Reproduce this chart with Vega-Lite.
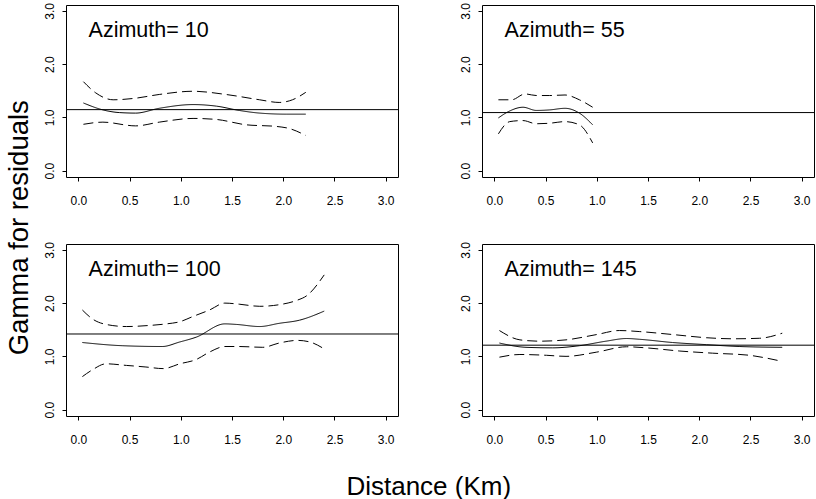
{
  "$schema": "https://vega.github.io/schema/vega-lite/v6.json",
  "padding": {"left": 5, "top": 2, "right": 0, "bottom": 0},
  "background": "white",
  "title": {"text": "Gamma for residuals", "orient": "left", "anchor": "middle", "fontSize": 27.5, "fontWeight": "normal", "font": "Liberation Sans", "color": "black", "offset": 9, "dx": 23},
  "config": {
    "font": "Liberation Sans",
    "view": {"stroke": "black", "strokeWidth": 1},
    "header": {"labels": false, "title": null, "labelFontSize": 0, "labelPadding": 0},
    "axis": {"domain": false, "grid": false, "tickColor": "black", "tickSize": 4, "labelFont": "Liberation Sans", "labelFontSize": 12, "labelColor": "black", "labelFlush": false, "labelOverlap": false}
  },
  "vconcat": [
    {
      "title": {"text": "Distance (Km)", "orient": "bottom", "anchor": "middle", "fontSize": 26, "fontWeight": "normal", "font": "Liberation Sans", "color": "black", "offset": 28},
      "data": {"values": [
        {"az":10,"s":"upper","d":0.05,"g":1.67},{"az":10,"s":"upper","d":0.17,"g":1.46},{"az":10,"s":"upper","d":0.34,"g":1.33},{"az":10,"s":"upper","d":0.56,"g":1.36},{"az":10,"s":"upper","d":0.79,"g":1.43},{"az":10,"s":"upper","d":1.12,"g":1.49},{"az":10,"s":"upper","d":1.44,"g":1.43},{"az":10,"s":"upper","d":1.77,"g":1.33},{"az":10,"s":"upper","d":1.96,"g":1.28},{"az":10,"s":"upper","d":2.09,"g":1.33},{"az":10,"s":"upper","d":2.22,"g":1.47},
        {"az":10,"s":"center","d":0.05,"g":1.27},{"az":10,"s":"center","d":0.24,"g":1.14},{"az":10,"s":"center","d":0.40,"g":1.09},{"az":10,"s":"center","d":0.56,"g":1.08},{"az":10,"s":"center","d":0.79,"g":1.17},{"az":10,"s":"center","d":1.12,"g":1.24},{"az":10,"s":"center","d":1.35,"g":1.21},{"az":10,"s":"center","d":1.57,"g":1.13},{"az":10,"s":"center","d":1.77,"g":1.08},{"az":10,"s":"center","d":2.03,"g":1.06},{"az":10,"s":"center","d":2.22,"g":1.06},
        {"az":10,"s":"lower","d":0.05,"g":0.87},{"az":10,"s":"lower","d":0.24,"g":0.91},{"az":10,"s":"lower","d":0.56,"g":0.84},{"az":10,"s":"lower","d":0.79,"g":0.91},{"az":10,"s":"lower","d":1.12,"g":0.98},{"az":10,"s":"lower","d":1.35,"g":0.96},{"az":10,"s":"lower","d":1.64,"g":0.86},{"az":10,"s":"lower","d":1.93,"g":0.83},{"az":10,"s":"lower","d":2.06,"g":0.79},{"az":10,"s":"lower","d":2.22,"g":0.66},
        {"az":10,"s":"sill","g":1.145},
        {"az":55,"s":"upper","d":0.04,"g":1.33},{"az":55,"s":"upper","d":0.17,"g":1.33},{"az":55,"s":"upper","d":0.30,"g":1.44},{"az":55,"s":"upper","d":0.41,"g":1.41},{"az":55,"s":"upper","d":0.54,"g":1.41},{"az":55,"s":"upper","d":0.69,"g":1.42},{"az":55,"s":"upper","d":0.83,"g":1.33},{"az":55,"s":"upper","d":0.96,"g":1.19},
        {"az":55,"s":"center","d":0.04,"g":0.99},{"az":55,"s":"center","d":0.14,"g":1.11},{"az":55,"s":"center","d":0.28,"g":1.19},{"az":55,"s":"center","d":0.41,"g":1.13},{"az":55,"s":"center","d":0.54,"g":1.14},{"az":55,"s":"center","d":0.69,"g":1.17},{"az":55,"s":"center","d":0.83,"g":1.08},{"az":55,"s":"center","d":0.96,"g":0.86},
        {"az":55,"s":"lower","d":0.04,"g":0.69},{"az":55,"s":"lower","d":0.15,"g":0.92},{"az":55,"s":"lower","d":0.28,"g":0.94},{"az":55,"s":"lower","d":0.41,"g":0.88},{"az":55,"s":"lower","d":0.54,"g":0.89},{"az":55,"s":"lower","d":0.69,"g":0.92},{"az":55,"s":"lower","d":0.83,"g":0.86},{"az":55,"s":"lower","d":0.96,"g":0.52},
        {"az":55,"s":"sill","g":1.09},
        {"az":100,"s":"upper","d":0.04,"g":1.87},{"az":100,"s":"upper","d":0.14,"g":1.70},{"az":100,"s":"upper","d":0.27,"g":1.60},{"az":100,"s":"upper","d":0.47,"g":1.56},{"az":100,"s":"upper","d":0.69,"g":1.58},{"az":100,"s":"upper","d":0.86,"g":1.61},{"az":100,"s":"upper","d":0.99,"g":1.65},{"az":100,"s":"upper","d":1.12,"g":1.75},{"az":100,"s":"upper","d":1.28,"g":1.87},{"az":100,"s":"upper","d":1.43,"g":2.0},{"az":100,"s":"upper","d":1.57,"g":1.98},{"az":100,"s":"upper","d":1.77,"g":1.94},{"az":100,"s":"upper","d":1.96,"g":1.97},{"az":100,"s":"upper","d":2.13,"g":2.05},{"az":100,"s":"upper","d":2.23,"g":2.14},{"az":100,"s":"upper","d":2.40,"g":2.53},
        {"az":100,"s":"center","d":0.04,"g":1.26},{"az":100,"s":"center","d":0.43,"g":1.20},{"az":100,"s":"center","d":0.82,"g":1.185},{"az":100,"s":"center","d":0.99,"g":1.27},{"az":100,"s":"center","d":1.15,"g":1.36},{"az":100,"s":"center","d":1.43,"g":1.61},{"az":100,"s":"center","d":1.54,"g":1.60},{"az":100,"s":"center","d":1.77,"g":1.56},{"az":100,"s":"center","d":1.96,"g":1.62},{"az":100,"s":"center","d":2.16,"g":1.68},{"az":100,"s":"center","d":2.40,"g":1.85},
        {"az":100,"s":"lower","d":0.04,"g":0.62},{"az":100,"s":"lower","d":0.14,"g":0.75},{"az":100,"s":"lower","d":0.27,"g":0.86},{"az":100,"s":"lower","d":0.47,"g":0.83},{"az":100,"s":"lower","d":0.66,"g":0.80},{"az":100,"s":"lower","d":0.83,"g":0.77},{"az":100,"s":"lower","d":0.99,"g":0.86},{"az":100,"s":"lower","d":1.15,"g":0.94},{"az":100,"s":"lower","d":1.28,"g":1.08},{"az":100,"s":"lower","d":1.43,"g":1.185},{"az":100,"s":"lower","d":1.57,"g":1.185},{"az":100,"s":"lower","d":1.80,"g":1.17},{"az":100,"s":"lower","d":1.96,"g":1.25},{"az":100,"s":"lower","d":2.14,"g":1.30},{"az":100,"s":"lower","d":2.26,"g":1.27},{"az":100,"s":"lower","d":2.40,"g":1.14},
        {"az":100,"s":"sill","g":1.42},
        {"az":145,"s":"upper","d":0.05,"g":1.485},{"az":145,"s":"upper","d":0.25,"g":1.31},{"az":145,"s":"upper","d":0.44,"g":1.285},{"az":145,"s":"upper","d":0.70,"g":1.31},{"az":145,"s":"upper","d":1.0,"g":1.41},{"az":145,"s":"upper","d":1.22,"g":1.485},{"az":145,"s":"upper","d":1.42,"g":1.465},{"az":145,"s":"upper","d":1.74,"g":1.41},{"az":145,"s":"upper","d":2.07,"g":1.35},{"az":145,"s":"upper","d":2.33,"g":1.33},{"az":145,"s":"upper","d":2.59,"g":1.34},{"az":145,"s":"upper","d":2.81,"g":1.435},
        {"az":145,"s":"center","d":0.05,"g":1.25},{"az":145,"s":"center","d":0.31,"g":1.17},{"az":145,"s":"center","d":0.57,"g":1.16},{"az":145,"s":"center","d":0.83,"g":1.20},{"az":145,"s":"center","d":1.09,"g":1.285},{"az":145,"s":"center","d":1.29,"g":1.335},{"az":145,"s":"center","d":1.42,"g":1.32},{"az":145,"s":"center","d":1.74,"g":1.26},{"az":145,"s":"center","d":2.07,"g":1.22},{"az":145,"s":"center","d":2.39,"g":1.185},{"az":145,"s":"center","d":2.81,"g":1.17},
        {"az":145,"s":"lower","d":0.05,"g":0.985},{"az":145,"s":"lower","d":0.25,"g":1.035},{"az":145,"s":"lower","d":0.51,"g":1.02},{"az":145,"s":"lower","d":0.70,"g":1.0},{"az":145,"s":"lower","d":1.0,"g":1.08},{"az":145,"s":"lower","d":1.29,"g":1.18},{"az":145,"s":"lower","d":1.48,"g":1.16},{"az":145,"s":"lower","d":1.81,"g":1.10},{"az":145,"s":"lower","d":2.13,"g":1.06},{"az":145,"s":"lower","d":2.49,"g":1.02},{"az":145,"s":"lower","d":2.65,"g":0.97},{"az":145,"s":"lower","d":2.81,"g":0.905},
        {"az":145,"s":"sill","g":1.21}
      ]},
      "facet": {"field": "az", "type": "ordinal", "title": null},
      "columns": 2,
      "spacing": {"row": 34, "column": 59},
      "resolve": {"axis": {"x": "independent", "y": "independent"}},
      "spec": {
        "width": 332,
        "height": 172,
        "layer": [
          {
            "transform": [{"filter": "datum.s !== 'sill'"}],
            "mark": {"type": "line", "color": "black", "strokeWidth": 1, "interpolate": "monotone"},
            "encoding": {
              "x": {"field": "d", "type": "quantitative", "scale": {"domain": [-0.12, 3.12], "nice": false, "zero": false},
                    "axis": {"title": null, "values": [0, 0.5, 1, 1.5, 2, 2.5, 3], "format": ".1f", "labelPadding": 14}},
              "y": {"field": "g", "type": "quantitative", "scale": {"domain": [-0.12, 3.11], "nice": false, "zero": false},
                    "axis": {"title": null, "values": [0, 0.5, 1, 1.5, 2, 2.5, 3], "labelExpr": "datum.value % 1 == 0 ? format(datum.value, '.1f') : ''", "labelAngle": 270, "labelPadding": 6}},
              "strokeDash": {"field": "s", "type": "nominal", "scale": {"domain": ["center", "upper", "lower"], "range": [[1, 0], [10, 5], [10, 5]]}, "legend": null}
            }
          },
          {
            "transform": [{"filter": "datum.s === 'sill'"}],
            "mark": {"type": "rule", "color": "black", "strokeWidth": 1},
            "encoding": {"y": {"field": "g", "type": "quantitative"}}
          },
          {
            "transform": [{"filter": "datum.s === 'sill'"}, {"calculate": "'Azimuth= ' + datum.az", "as": "lab"}],
            "mark": {"type": "text", "align": "left", "baseline": "alphabetic", "fontSize": 21.5, "font": "Liberation Sans", "color": "black"},
            "encoding": {
              "x": {"datum": 0.1, "type": "quantitative"},
              "y": {"datum": 2.5, "type": "quantitative"},
              "text": {"field": "lab", "type": "nominal"}
            }
          }
        ]
      }
    }
  ]
}
